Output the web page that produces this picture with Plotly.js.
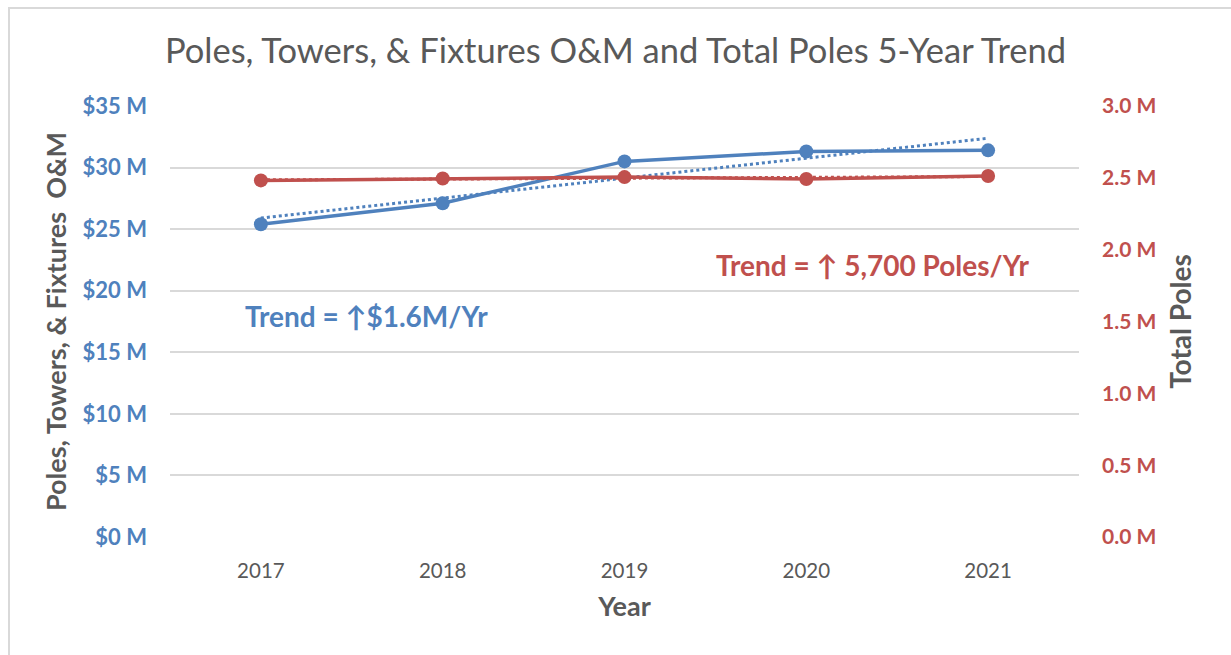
<!DOCTYPE html>
<html>
<head>
<meta charset="utf-8">
<script src="https://cdn.plot.ly/plotly-3.0.1.min.js"></script>
<style>
  body { margin: 0; background: #fff; }
  #frame { position: absolute; left: 8px; top: 7px; width: 1240px; height: 660px; border: 2px solid #d9d9d9; box-sizing: border-box; }
  #chart { position: absolute; left: 0; top: 0; width: 1231px; height: 655px; }
</style>
</head>
<body>
<div id="frame"></div>
<div id="chart"></div>
<script>
var years = ["2017", "2018", "2019", "2020", "2021"];
var omCost = [25.4, 27.1, 30.5, 31.3, 31.4];        // $ millions
var totalPoles = [2.482, 2.495, 2.505, 2.492, 2.513]; // millions of poles
var omTicks = [0, 5, 10, 15, 20, 25, 30, 35];
var poleTicks = [0, 0.5, 1, 1.5, 2, 2.5, 3];

var blue = "#4f81bd";
var red = "#c0504d";
var grey = "#595959";

// least squares trend, like the Excel trendline
function trend(vals) {
  var n = vals.length, mx = (n - 1) / 2, my = 0;
  vals.forEach(function (v) { my += v / n; });
  var sxy = 0, sxx = 0;
  vals.forEach(function (v, i) { sxy += (i - mx) * (v - my); sxx += (i - mx) * (i - mx); });
  var b = sxy / sxx;
  return vals.map(function (v, i) { return my + b * (i - mx); });
}

var omTrace = {
  x: years, y: omCost, type: "scatter", mode: "lines+markers", name: "O&M",
  line: { color: blue, width: 3.5 }, marker: { color: blue, size: 14 }
};
var omTrend = {
  x: years, y: trend(omCost), type: "scatter", mode: "lines", name: "O&M trend",
  line: { color: blue, width: 3, dash: "dot" }
};
var polesTrend = {
  x: years, y: trend(totalPoles), type: "scatter", mode: "lines", name: "Poles trend", yaxis: "y2",
  line: { color: red, width: 3, dash: "dot" }
};
var polesTrace = {
  x: years, y: totalPoles, type: "scatter", mode: "lines+markers", name: "Total Poles", yaxis: "y2",
  line: { color: red, width: 3.5 }, marker: { color: red, size: 14 }
};

var layout = {
  width: 1231, height: 655,
  margin: { l: 170, r: 152, t: 106, b: 118 },
  paper_bgcolor: "rgba(0,0,0,0)",
  plot_bgcolor: "rgba(0,0,0,0)",
  showlegend: false,
  font: { family: "Lato, 'Open Sans', sans-serif", color: grey },
  title: {
    text: "Poles, Towers, & Fixtures O&M and Total Poles 5-Year Trend",
    font: { size: 34.5, color: grey }, x: 0.5, xanchor: "center", y: 0.922, yanchor: "middle"
  },
  xaxis: {
    type: "category", range: [-0.5, 4.5], showgrid: false, zeroline: false, showline: false,
    tickfont: { size: 20.5, color: grey }, ticks: "", ticklabelstandoff: 19,
    title: { text: "<b>Year</b>", font: { size: 27, color: grey }, standoff: 16 }
  },
  yaxis: {
    range: [0, 35], showgrid: true, gridcolor: "#d9d9d9", gridwidth: 2,
    zeroline: false, showline: false, ticks: "",
    tickvals: omTicks,
    ticktext: omTicks.map(function (v) { return "<b>$" + v + " M</b>"; }),
    tickfont: { size: 22, color: blue, weight: 700 }, ticklabelstandoff: 22,
    title: { text: "<b>Poles, Towers, & Fixtures  O&M</b>", font: { size: 27, color: grey }, standoff: 8 }
  },
  yaxis2: {
    overlaying: "y", side: "right", range: [0, 3],
    showgrid: false, zeroline: false, showline: false, ticks: "",
    tickvals: poleTicks,
    ticktext: poleTicks.map(function (v) { return "<b>" + v.toFixed(1) + " M</b>"; }),
    tickfont: { size: 21, color: red, weight: 700 }, ticklabelstandoff: 22,
    title: { text: "<b>Total Poles</b>", font: { size: 28, color: grey }, standoff: 16 }
  },
  annotations: [
    { xref: "paper", yref: "paper", x: 0.08, y: 0.512, xanchor: "left", yanchor: "middle", showarrow: false,
      text: "<b>Trend = \u2191$1.6M/Yr</b>", font: { size: 28, color: blue } },
    { xref: "paper", yref: "paper", x: 0.947, y: 0.63, xanchor: "right", yanchor: "middle", showarrow: false,
      text: "<b>Trend = \u2191 5,700 Poles/Yr</b>", font: { size: 28, color: red } }
  ]
};

Plotly.newPlot("chart", [omTrend, omTrace, polesTrend, polesTrace], layout, { displayModeBar: false });
</script>
</body>
</html>
